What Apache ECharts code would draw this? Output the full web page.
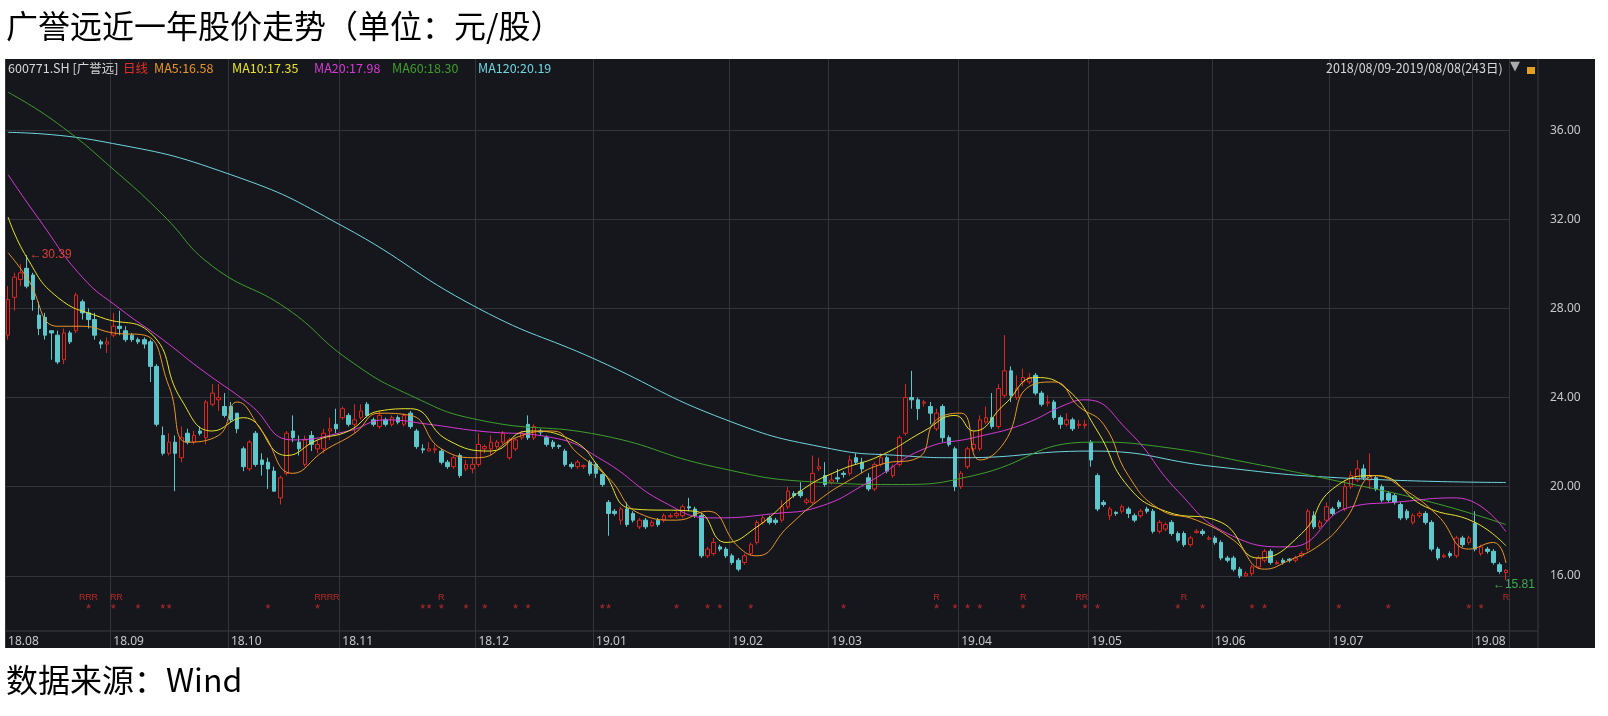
<!DOCTYPE html>
<html><head><meta charset="utf-8">
<script src="https://cdn.jsdelivr.net/npm/echarts@6/dist/echarts.min.js"></script>
<style>html,body{margin:0;padding:0;background:#fff}#c{width:1608px;height:716px}</style>
</head><body><div id="c"></div>
<script>
const monthNames = ['18.08','18.09','18.10','18.11','18.12','19.01','19.02','19.03','19.04','19.05','19.06','19.07','19.08'];
const monthCounts = [17,19,18,22,19,22,16,21,21,20,19,23,6];
const yTicks = [16,20,24,28,32,36];
// [open, close, low, high]
const candles = [
[26.8,28.4,26.6,29.0],[28.5,29.4,27.9,29.6],[29.3,29.6,29.0,30.0],[29.8,29.0,28.9,30.39],[29.5,28.4,27.9,29.6],[27.7,27.1,26.8,28.3],[27.6,26.8,26.6,27.8],[27.0,26.9,25.7,27.0],[26.8,25.6,25.5,27.0],[25.7,26.9,25.5,27.1],[26.9,26.5,26.4,27.0],[27.0,28.6,26.9,28.7],[28.3,27.8,27.5,28.4],[27.8,27.5,27.1,28.0],[27.5,26.8,26.6,27.8],[26.5,26.4,26.2,26.6],[26.4,26.5,26.0,26.7],
[26.8,27.2,26.7,27.8],[27.2,27.1,26.8,27.9],[27.0,26.6,26.5,27.2],[26.8,26.6,26.5,26.9],[26.6,26.5,26.4,26.7],[26.6,26.4,26.2,26.7],[26.5,25.4,24.7,26.6],[25.4,22.8,22.7,25.5],[22.3,21.5,21.4,22.7],[21.5,22.0,21.4,22.4],[22.0,21.5,19.8,22.3],[21.3,22.2,21.1,22.7],[22.4,22.0,21.9,22.6],[22.0,22.3,21.9,22.5],[22.5,22.4,22.3,22.7],[22.2,23.8,21.9,23.9],[23.7,24.2,23.6,24.6],[23.9,24.0,23.4,24.6],[23.6,23.2,23.1,24.2],
[23.6,23.0,22.9,23.8],[23.3,22.6,22.4,23.3],[21.7,20.9,20.7,21.8],[20.8,22.0,20.7,22.1],[22.4,21.0,20.9,22.5],[21.2,21.0,20.5,21.5],[21.1,20.8,19.9,21.3],[20.7,19.8,19.8,20.9],[19.5,20.4,19.2,20.5],[20.6,22.4,20.5,22.5],[22.5,22.2,22.0,23.2],[22.0,21.7,21.4,22.3],[21.0,22.1,20.9,22.3],[22.3,21.9,21.6,22.5],[21.7,21.9,21.5,22.1],[21.7,22.4,21.5,22.6],[22.5,22.6,22.1,23.1],[22.8,22.6,22.4,23.5],
[23.1,23.5,23.0,23.6],[23.2,22.8,22.7,23.3],[22.8,23.0,22.4,23.7],[23.1,23.4,23.0,23.7],[23.7,23.2,23.1,23.8],[23.0,22.8,22.7,23.1],[22.7,23.2,22.6,23.4],[23.0,22.8,22.7,23.1],[22.8,23.1,22.7,23.2],[23.1,22.9,22.8,23.2],[22.8,23.2,22.7,23.3],[23.3,22.7,22.6,23.4],[22.5,21.8,21.7,22.6],[21.7,21.65,21.5,21.9],[21.6,21.7,21.6,22.0],[21.65,21.7,21.5,21.9],[21.6,21.1,21.0,21.7],[21.1,20.9,20.8,21.2],[20.9,21.3,20.8,21.4],[21.4,20.5,20.4,21.5],[20.8,21.0,20.7,21.2],[20.8,21.0,20.6,21.3],
[21.0,21.9,20.9,22.4],[21.7,21.8,21.5,21.9],[21.7,22.0,21.4,22.3],[21.8,22.0,21.7,22.1],[22.0,22.4,21.9,22.5],[21.3,22.1,21.2,22.2],[21.7,22.1,21.6,22.2],[22.2,22.4,22.1,22.5],[22.8,22.2,22.1,23.2],[22.2,22.7,22.1,22.8],[22.5,22.45,22.3,22.6],[22.2,21.9,21.8,22.3],[22.0,21.8,21.7,22.1],[21.85,21.8,21.7,21.9],[21.6,21.0,20.9,21.7],[21.0,20.9,20.8,21.1],[20.9,21.1,20.8,21.2],[20.9,20.95,20.8,21.0],[21.1,20.6,20.5,21.2],
[21.0,20.6,20.4,21.1],[20.55,20.1,20.0,20.6],[19.3,18.8,17.8,19.4],[18.9,18.8,18.7,19.0],[18.5,19.0,18.3,19.1],[19.0,18.3,18.2,19.3],[18.8,18.5,18.4,18.9],[18.2,18.5,18.1,18.6],[18.5,18.2,18.1,18.6],[18.25,18.4,18.2,18.5],[18.5,18.3,18.2,18.6],[18.5,18.7,18.4,18.8],[18.65,18.7,18.6,18.8],[18.7,18.8,18.6,18.9],[18.7,19.1,18.6,19.2],[19.1,19.05,18.9,19.5],[19.0,18.7,18.6,19.1],[18.7,16.9,16.8,18.8],[16.9,17.2,16.8,17.3],[17.0,17.5,16.9,17.7],[17.3,17.2,17.1,17.4],[17.2,16.9,16.8,17.3],
[16.9,16.6,16.5,17.0],[16.7,16.3,16.2,16.8],[16.6,16.9,16.5,17.0],[17.0,17.4,16.9,17.5],[17.5,18.4,17.4,18.5],[18.4,18.6,18.3,18.7],[18.6,18.4,18.3,18.7],[18.5,18.4,18.3,18.6],[18.5,19.1,18.4,19.4],[19.1,19.8,19.0,20.0],[19.7,19.6,19.5,19.8],[19.8,19.6,19.5,20.2],[19.3,19.4,19.2,19.5],[19.3,20.6,19.2,21.4],[20.8,20.9,20.7,21.3],[20.5,20.1,20.0,21.1],
[20.2,20.3,20.1,20.6],[20.4,20.35,20.2,20.8],[20.6,20.55,20.4,20.7],[20.6,21.2,20.5,21.4],[21.3,21.1,21.0,21.5],[21.1,20.8,20.6,21.3],[20.4,19.9,19.8,20.6],[19.9,21.0,19.8,21.1],[21.0,21.3,20.9,21.5],[21.3,20.7,20.6,21.4],[20.5,20.9,20.4,21.0],[21.0,22.2,20.9,22.3],[22.4,24.0,22.3,24.6],[24.0,23.9,23.5,25.2],[23.9,23.5,23.0,24.0],[23.75,23.8,23.6,23.9],[23.6,23.3,22.8,23.8],[22.6,23.3,22.5,23.5],[23.6,22.2,22.0,23.7],[22.2,21.9,21.8,22.3],[21.7,20.0,19.8,21.8],
[20.0,20.6,19.9,20.7],[20.9,21.7,20.8,21.8],[21.7,21.9,21.6,22.5],[21.7,23.0,21.6,23.2],[22.9,23.1,22.8,23.6],[23.1,22.7,22.6,24.2],[22.7,24.4,22.6,24.6],[24.1,25.2,24.0,26.8],[25.2,24.1,23.8,25.4],[24.0,24.4,23.9,25.0],[24.7,24.9,24.5,25.3],[24.7,24.9,24.6,25.1],[25.0,24.2,24.1,25.1],[24.2,23.7,23.6,24.3],[23.75,23.8,23.6,24.1],[23.8,23.1,23.0,23.9],[23.1,22.8,22.6,23.2],[22.8,23.0,22.7,23.3],[23.0,22.6,22.5,23.1],[22.75,22.8,22.6,23.0],[22.75,22.8,22.6,23.0],
[22.0,21.2,20.9,22.1],[20.5,19.0,18.9,20.6],[19.3,19.2,19.1,19.4],[18.7,19.0,18.5,19.1],[18.85,18.8,18.7,18.9],[18.9,19.1,18.8,19.2],[19.0,18.8,18.6,19.1],[18.7,18.5,18.4,18.8],[18.7,18.9,18.6,19.0],[19.0,18.9,18.8,19.1],[18.9,18.0,17.9,19.0],[18.0,18.4,17.9,18.5],[18.1,18.3,18.0,18.4],[18.4,17.9,17.8,18.5],[17.9,17.6,17.5,18.0],[17.9,17.4,17.3,18.0],[17.4,17.7,17.3,17.8],[17.95,18.0,17.9,18.1],[18.0,17.9,17.8,18.1],[17.65,17.7,17.6,17.8],
[17.7,17.5,17.4,17.8],[17.5,16.8,16.7,17.6],[16.8,16.7,16.6,16.9],[16.8,16.3,16.2,16.9],[16.3,16.0,15.9,16.4],[16.0,16.1,15.95,16.2],[16.1,16.4,16.0,16.5],[16.4,16.8,16.3,16.9],[16.7,17.1,16.6,17.2],[17.1,16.6,16.5,17.2],[16.55,16.6,16.5,16.7],[16.7,16.6,16.5,16.8],[16.75,16.7,16.6,16.8],[16.7,16.8,16.6,16.9],[16.9,17.0,16.8,17.1],[17.2,18.9,17.1,19.0],[18.7,18.2,18.1,18.9],[18.2,18.4,18.1,18.5],[18.5,19.1,18.4,19.3],
[19.0,18.8,18.7,19.1],[19.3,19.1,19.0,19.4],[19.0,20.0,18.9,20.3],[20.0,20.5,19.9,20.7],[20.3,20.8,20.2,21.2],[20.8,20.4,20.3,21.0],[20.3,20.5,19.9,21.5],[20.4,19.9,19.8,20.5],[20.0,19.4,19.3,20.1],[19.7,19.4,19.3,19.8],[19.6,19.3,19.2,19.7],[19.2,18.6,18.5,19.3],[18.9,18.6,18.5,19.0],[18.4,18.7,18.3,18.8],[18.7,18.8,18.6,18.9],[18.8,18.4,18.3,18.9],[18.4,17.2,17.1,18.5],[17.2,16.8,16.7,17.3],[16.85,16.9,16.8,17.0],[17.0,16.9,16.8,17.1],[16.9,17.7,16.8,17.8],[17.7,17.4,17.3,17.8],[17.5,17.7,17.4,17.8],
[18.35,17.2,17.1,18.9],[17.0,17.3,16.9,17.4],[17.2,17.1,17.0,17.3],[17.1,16.6,16.5,17.2],[16.5,16.2,16.1,16.6],[16.15,16.25,15.81,16.3]
];
// moving averages: [dayIndex, value]
const ma5 = [[0,30.5],[3,29.4],[8,27.2],[12,27.2],[17,26.9],[22,26.8],[26,24.5],[29,22.0],[34,22.3],[37,23.8],[41,22.5],[46,20.6],[51,21.6],[56,22.4],[60,23.3],[65,23.2],[70,21.7],[76,21.3],[82,22.2],[88,22.5],[92,21.5],[97,20.4],[102,18.8],[108,18.5],[113,18.9],[118,17.3],[121,16.9],[126,18.2],[131,19.4],[136,20.3],[141,21.0],[147,21.3],[150,23.0],[154,23.3],[157,21.2],[161,22.0],[165,24.5],[169,24.7],[173,23.6],[177,22.8],[181,20.5],[186,19.0],[192,18.5],[198,17.6],[203,16.3],[207,16.7],[212,17.4],[216,18.5],[221,20.5],[226,19.8],[231,18.7],[236,17.2],[240,17.5],[242,16.58]];
const ma10 = [[0,32.1],[3,30.3],[8,28.5],[15,27.6],[23,26.9],[28,23.9],[33,22.5],[38,23.1],[45,21.4],[50,22.1],[55,22.5],[60,23.4],[65,23.5],[71,22.1],[78,21.6],[84,22.5],[91,22.1],[96,20.7],[101,19.0],[111,18.9],[116,17.5],[121,18.2],[128,19.8],[134,20.7],[141,21.4],[148,22.5],[153,23.2],[156,22.5],[161,23.7],[166,24.9],[171,24.4],[176,22.5],[181,20.0],[187,18.9],[196,18.4],[202,16.8],[209,17.9],[214,19.9],[221,20.5],[229,19.1],[237,18.4],[242,17.35]];
const ma20 = [[0,34.0],[5,32.0],[12,29.4],[18,28.0],[25,26.6],[31,25.3],[39,23.7],[46,22.1],[55,22.5],[61,23.0],[68,22.8],[76,22.5],[88,22.2],[96,21.2],[106,19.3],[114,18.6],[124,18.8],[131,19.1],[139,20.2],[148,21.7],[156,22.2],[164,22.8],[171,23.7],[174,23.9],[181,22.5],[189,19.8],[197,17.9],[207,17.3],[217,19.1],[224,19.3],[234,19.5],[242,17.98]];
const ma60 = [[0,37.7],[8,36.3],[18,34.0],[25,32.2],[33,29.9],[45,28.0],[55,25.7],[65,24.1],[76,23.0],[96,22.3],[114,20.9],[131,20.2],[144,20.1],[156,20.5],[175,22.0],[186,21.8],[200,21.1],[214,20.3],[230,19.3],[242,18.3]];
const ma120 = [[0,35.9],[15,35.5],[36,34.0],[54,31.7],[76,28.0],[95,25.7],[116,23.0],[133,21.7],[144,21.4],[154,21.3],[175,21.6],[195,20.9],[215,20.4],[242,20.19]];
const starDays = [13,17,21,25,26,42,50,67,68,70,74,77,82,84,96,97,108,113,115,120,135,150,153,155,157,164,174,176,189,193,201,203,215,223,236,238];
const rDays = [12,13,14,17,18,50,51,52,53,70,150,164,173,174,190,242];

const cats = [], monthStart = new Set();
monthNames.forEach((m,i)=>{ for(let k=0;k<monthCounts[i];k++){ if(k===0) monthStart.add(cats.length); cats.push(m+'#'+k);} });

const chart = echarts.init(document.getElementById('c'));
const lineS = (name,data,color)=>({type:'line',name,data,smooth:true,showSymbol:false,symbol:'none',lineStyle:{width:1,color},z:3,silent:true});
const hdr = (x,t,c)=>({type:'text',left:x,top:62,style:{text:t,font:'12.5px "Noto Sans CJK SC"',fill:c},z:60});
chart.setOption({
  animation:false,
  backgroundColor:'#ffffff',
  graphic:[
    {type:'rect',shape:{x:5,y:59,width:1590,height:589},style:{fill:'#16171c'},z:-10},
    {type:'line',shape:{x1:5,y1:631,x2:1538,y2:631},style:{stroke:'#3a3a40',lineWidth:1},z:-5},
    {type:'line',shape:{x1:1538,y1:59,x2:1538,y2:648},style:{stroke:'#3a3a40',lineWidth:1},z:-5},
    {type:'rect',shape:{x:0,y:0,width:1608,height:59},style:{fill:'#fff'},z:50},
    {type:'rect',shape:{x:0,y:648,width:1608,height:68},style:{fill:'#fff'},z:50},
    {type:'text',left:6,top:10,style:{text:'广誉远近一年股价走势（单位：元/股）',font:'32px "Noto Sans CJK SC"',fill:'#000'},z:60},
    {type:'text',left:6,top:664,style:{text:'数据来源：Wind',font:'32px "Noto Sans CJK SC"',fill:'#000'},z:60},
    hdr(8,'600771.SH [广誉远]','#d8d8d8'),
    hdr(123,'日线','#e0302a'),
    hdr(154,'MA5:16.58','#e8962a'),
    hdr(232,'MA10:17.35','#e8e22c'),
    hdr(314,'MA20:17.98','#d63ad6'),
    hdr(392,'MA60:18.30','#3f9f2c'),
    hdr(478,'MA120:20.19','#6fd6e0'),
    hdr(1326,'2018/08/09-2019/08/08(243日)','#d8d8d8'),
    {type:'text',left:1510,top:60,style:{text:'▼',font:'13px "DejaVu Sans"',fill:'#aaa'},z:60},
    {type:'rect',shape:{x:1527,y:67,width:8,height:7},style:{fill:'#e0a020'},z:60}
  ],
  grid:{left:5,right:99,top:41,bottom:51},
  xAxis:{type:'category',data:cats,boundaryGap:true,
    axisLine:{show:false},axisTick:{show:false},
    axisLabel:{interval:(i)=>monthStart.has(i),formatter:v=>v.split('#')[0],color:'#c8c8c8',fontSize:12,margin:-29,align:'left',fontFamily:'Noto Sans'},
    splitLine:{show:true,interval:(i)=>monthStart.has(i),lineStyle:{color:'#33343a',width:1}}},
  yAxis:{type:'value',position:'right',min:12,max:40,interval:4,
    axisLine:{show:false},axisTick:{show:false},
    axisLabel:{color:'#c8c8c8',fontSize:12,margin:41,fontFamily:'Noto Sans',formatter:v=>yTicks.includes(v)?v.toFixed(2):''},
    splitLine:{show:true,showMinLine:false,showMaxLine:false,lineStyle:{color:'#33343a',width:1}}},
  series:[
    {type:'candlestick',data:candles,barWidth:4,z:2,
      itemStyle:{color:'#16171c',color0:'#5ec7cb',borderColor:'#d8281f',borderColor0:'#5ec7cb',borderWidth:1},
      markPoint:{symbol:'circle',symbolSize:0,data:[
        {coord:[3,30.39],label:{show:true,formatter:'←30.39',color:'#d8403a',fontSize:12,offset:[24,0]}},
        {coord:[242,15.81],label:{show:true,formatter:'←15.81',color:'#3faa50',fontSize:12,offset:[8,5]}}
      ]}},
    lineS('MA120',ma120,'#6fd6e0'),
    lineS('MA60',ma60,'#3f9f2c'),
    lineS('MA20',ma20,'#d63ad6'),
    lineS('MA10',ma10,'#e8e22c'),
    lineS('MA5',ma5,'#e8962a'),
    {type:'scatter',data:starDays.map(d=>[d,14.5]),symbolSize:0,silent:true,
      label:{show:true,formatter:'*',color:'#e0302a',fontSize:13,position:'inside'}},
    {type:'scatter',data:rDays.map(d=>[d,15.05]),symbolSize:0,silent:true,
      label:{show:true,formatter:'R',color:'#e0302a',fontSize:9,position:'inside'}}
  ]
});
</script></body></html>
